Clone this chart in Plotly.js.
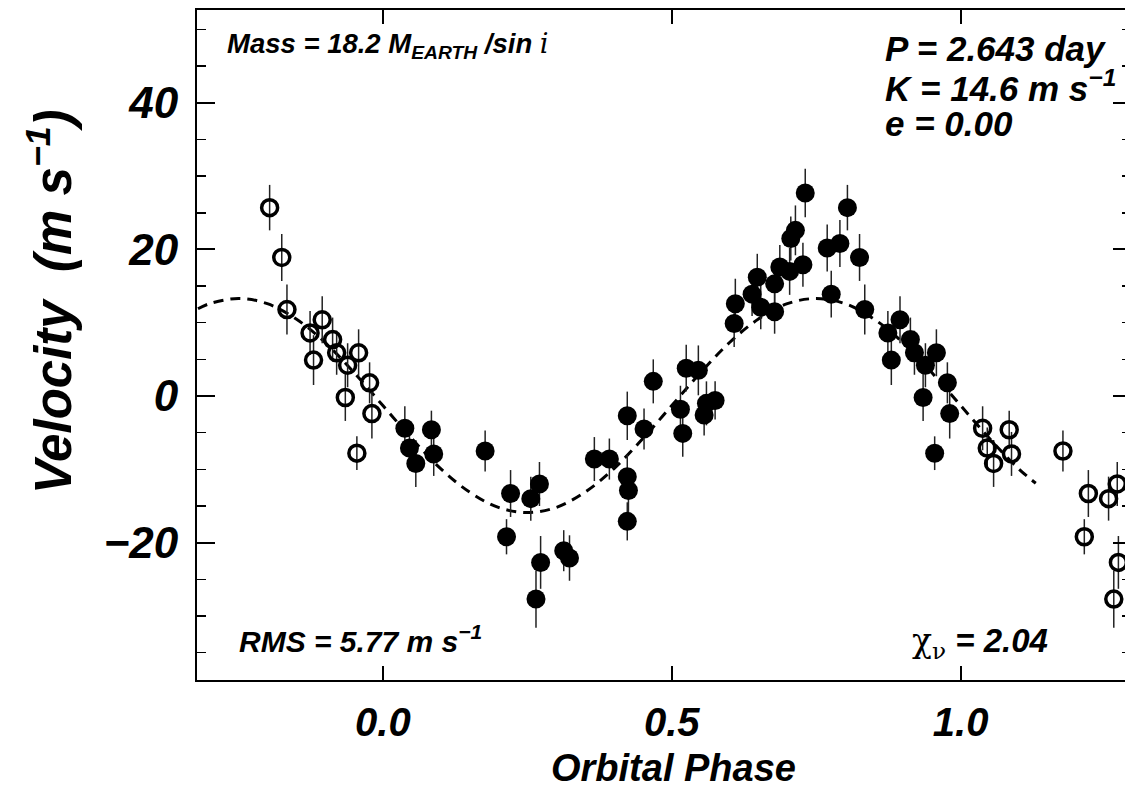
<!DOCTYPE html>
<html>
<head>
<meta charset="utf-8">
<script src="https://cdn.plot.ly/plotly-3.0.1.min.js"></script>
<style>
html,body{margin:0;padding:0;overflow:hidden;background:#fff;}
#chart{width:1132px;height:791px;}
</style>
</head>
<body>
<div id="chart"></div>
<script>
// Measured radial velocities (phase-folded), filled points, phase 0..1
const phase = [0.038,0.046,0.057,0.084,0.088,0.177,0.214,0.221,0.256,0.265,0.271,0.273,0.313,0.323,
  0.366,0.392,0.423,0.423,0.425,0.423,0.452,0.468,0.515,0.519,0.525,0.546,0.556,0.560,0.575,
  0.608,0.610,0.639,0.648,0.654,0.678,0.678,0.687,0.704,0.706,0.714,0.727,0.731,0.769,0.776,0.791,
  0.804,0.825,0.834,0.874,0.880,0.895,0.913,0.920,0.935,0.939,0.955,0.958,0.977,0.981];
const velocity = [-4.4,-7.1,-9.2,-4.6,-7.9,-7.5,-19.2,-13.3,-14.0,-27.7,-12.0,-22.7,-21.1,-22.1,
  -8.6,-8.6,-2.7,-11.0,-12.9,-17.1,-4.5,2.0,-1.8,-5.1,3.8,3.5,-2.6,-1.0,-0.6,
  9.9,12.6,13.9,16.2,12.1,11.5,15.3,17.6,17.0,21.5,22.6,17.9,27.7,20.2,13.9,20.8,
  25.7,18.9,11.8,8.6,4.9,10.4,7.7,5.9,-0.2,4.2,-7.8,5.9,1.8,-2.4];
const errors = [3.0,2.8,3.2,2.6,3.0,2.8,2.4,3.2,3.0,3.9,3.0,3.6,2.8,3.1,
  3.0,2.8,3.3,3.0,3.0,2.6,2.8,3.0,3.2,3.2,3.2,3.4,2.8,3.0,2.6,
  3.2,3.4,3.0,3.2,3.0,3.0,3.2,3.0,3.2,3.0,3.4,3.0,3.3,3.2,3.2,3.2,
  3.1,3.2,3.4,3.0,3.4,3.2,3.0,3.0,3.2,3.0,2.3,3.2,2.8,3.4];

// Phase window in which the folded points are repeated as open circles
const wrapLow = -0.2, wrapHigh = 1.3;

// Fitted orbit curve
const curvePhase = [-0.32,-0.30,-0.25,-0.20,-0.15,-0.10,-0.05,0.00,0.05,0.10,0.15,0.20,0.25,0.30,0.35,
  0.40,0.45,0.50,0.55,0.60,0.65,0.70,0.75,0.80,0.85,0.90,0.95,1.00,1.05,1.10,1.13];
const curveVel = [11.9,12.6,13.3,12.6,10.5,7.3,3.2,-1.3,-5.8,-9.9,-13.1,-15.2,-15.9,-15.2,-13.1,
  -9.9,-5.8,-1.3,3.2,7.3,10.5,12.6,13.3,12.6,10.5,7.3,3.2,-1.3,-5.8,-9.9,-11.9];

const xTickVals = [0.0,0.5,1.0];
const xTickText = ['0.0','0.5','1.0'];
const yTickVals = [-20,0,20,40];
const yTickText = ['\u221220','0','20','40'];

// Repeated points
const openX = [], openY = [], openE = [];
for (let i = 0; i < phase.length; i++) {
  if (phase[i] - 1 >= wrapLow) { openX.push(phase[i] - 1); openY.push(velocity[i]); openE.push(errors[i]); }
}
for (let i = 0; i < phase.length; i++) {
  if (phase[i] + 1 <= wrapHigh) { openX.push(phase[i] + 1); openY.push(velocity[i]); openE.push(errors[i]); }
}

const FONT = 'Liberation Sans, Arial, Helvetica, sans-serif';
const bi = (size) => ({family: FONT, size: size, color: 'black', weight: 'bold', style: 'italic'});

const traces = [
  {x: curvePhase, y: curveVel, mode: 'lines', type: 'scatter',
   line: {color: 'black', width: 3, dash: '10px,7px', shape: 'spline'}, hoverinfo: 'skip'},
  {x: phase, y: velocity, mode: 'markers', type: 'scatter',
   error_y: {type: 'data', array: errors, visible: true, color: '#222', thickness: 1.5, width: 0},
   marker: {symbol: 'circle', size: 19, color: 'black'}},
  {x: openX, y: openY, mode: 'markers', type: 'scatter',
   error_y: {type: 'data', array: openE, visible: true, color: '#222', thickness: 1.5, width: 0},
   marker: {symbol: 'circle-open', size: 16, color: 'black', line: {width: 3.5, color: 'black'}}}
];

const px = (p) => (p - 197) / 934;
const py = (p) => (680 - p) / 670;

const layout = {
  width: 1132, height: 791,
  margin: {l: 197, r: 1, t: 10, b: 111},
  paper_bgcolor: 'white', plot_bgcolor: 'white',
  showlegend: false,
  xaxis: {
    range: [-0.3217, 1.2948], tickvals: xTickVals, ticktext: xTickText,
    showgrid: false, zeroline: false, showline: true, linecolor: 'black', linewidth: 2,
    mirror: 'ticks', ticks: 'inside', ticklen: 14, tickwidth: 2, tickcolor: 'black',
    tickfont: bi(40), ticklabelstandoff: 6
  },
  yaxis: {
    range: [-38.74, 52.66], tickvals: yTickVals, ticktext: yTickText,
    showgrid: false, zeroline: false, showline: true, linecolor: 'black', linewidth: 2,
    mirror: 'ticks', ticks: 'inside', ticklen: 18, tickwidth: 2, tickcolor: 'black',
    tickfont: bi(44), ticklabelstandoff: 8,
    minor: {dtick: 5, tick0: 0, ticks: 'inside', ticklen: 9, tickwidth: 1.5, tickcolor: 'black', showgrid: false}
  },
  annotations: [
    {xref: 'paper', yref: 'paper', x: px(673), y: py(768), xanchor: 'center', yanchor: 'middle',
     text: 'Orbital Phase', showarrow: false, font: bi(38)},
    {xref: 'paper', yref: 'paper', x: px(50), y: py(302), xanchor: 'center', yanchor: 'middle',
     text: 'Velocity  (m s<sup>\u22121</sup>)', textangle: -90, showarrow: false, font: bi(51)},
    {xref: 'paper', yref: 'paper', x: px(225), y: py(45), xanchor: 'left', yanchor: 'middle',
     text: 'Mass = 18.2 M<sub>EARTH</sub> /sin <span style="font-family:DejaVu Serif;font-weight:normal">i</span>',
     showarrow: false, font: bi(27.5)},
    {xref: 'paper', yref: 'paper', x: px(883), y: py(48), xanchor: 'left', yanchor: 'middle',
     text: 'P = 2.643 day', showarrow: false, font: bi(35)},
    {xref: 'paper', yref: 'paper', x: px(883), y: py(86), xanchor: 'left', yanchor: 'middle',
     text: 'K = 14.6 m s<sup>\u22121</sup>', showarrow: false, font: bi(35)},
    {xref: 'paper', yref: 'paper', x: px(883), y: py(123), xanchor: 'left', yanchor: 'middle',
     text: 'e = 0.00', showarrow: false, font: bi(35)},
    {xref: 'paper', yref: 'paper', x: px(237), y: py(639), xanchor: 'left', yanchor: 'middle',
     text: 'RMS = 5.77 m s<sup>\u22121</sup>', showarrow: false, font: bi(30)},
    {xref: 'paper', yref: 'paper', x: px(910), y: py(642), xanchor: 'left', yanchor: 'middle',
     text: '<span style="font-family:DejaVu Serif;font-weight:normal;font-style:normal">\u03c7<sub>\u03bd</sub></span> = 2.04',
     showarrow: false, font: bi(33)}
  ]
};

Plotly.newPlot('chart', traces, layout, {staticPlot: true, displayModeBar: false});
</script>
</body>
</html>
